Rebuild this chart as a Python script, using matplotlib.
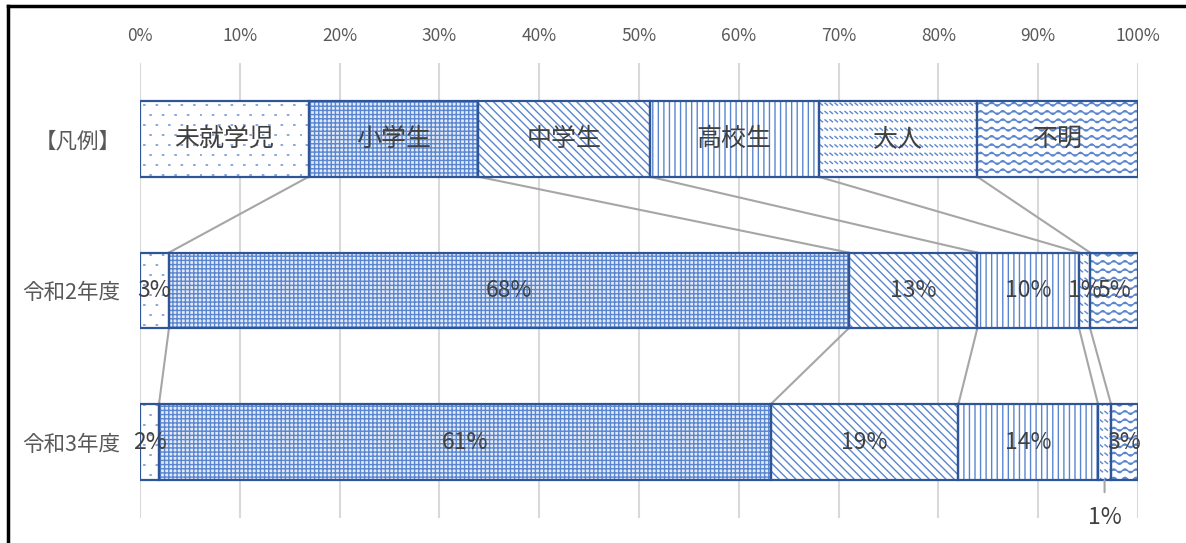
import warnings

import matplotlib
matplotlib.use("Agg")
import matplotlib.hatch as mhatch
import matplotlib.pyplot as plt
import numpy as np
from matplotlib.lines import Line2D
from matplotlib.path import Path

warnings.filterwarnings("ignore")

plt.rcParams["font.family"] = ["Noto Sans CJK JP", "DejaVu Sans"]
plt.rcParams["hatch.linewidth"] = 1.0

# data (percent of each group per year)
categories = ["【凡例】", "令和2年度", "令和3年度"]
groups = ["未就学児", "小学生", "中学生", "高校生", "大人", "不明"]
legend_widths = [16.9, 17.0, 17.2, 16.9, 15.9, 16.1]
r2_values = [2.9, 68.1, 12.9, 10.2, 1.1, 4.8]
r3_values = [1.9, 61.3, 18.8, 14.0, 1.3, 2.7]
tick_values = list(range(0, 101, 10))

hatches = [":", "++++", "\\\\\\\\", "|||", "==", "~~"]
face_colors = ["white", "#e4ebf7", "white", "white", "white", "white"]
HATCH_COLOR = "#5a86cf"
EDGE_COLOR = "#2f5597"
TEXT_COLOR = "#404040"
TICK_COLOR = "#595959"
GRID_COLOR = "#d9d9d9"
SERIES_LINE_COLOR = "#a6a6a6"


class WaveHatch(mhatch.HatchPatternBase):
    """'~' : rows of small waves"""

    def __init__(self, hatch, density):
        self.num_rows = int(hatch.count("~") * density)
        self.num_pts = 201
        self.num_vertices = self.num_rows * self.num_pts

    def set_vertices_and_codes(self, vertices, codes):
        x = np.linspace(0, 1, self.num_pts)
        k = 0
        for i in range(self.num_rows):
            y0 = (i + 0.5) / self.num_rows
            vertices[k:k + self.num_pts, 0] = x
            vertices[k:k + self.num_pts, 1] = y0 + 0.22 / self.num_rows * np.sin(2 * np.pi * 9 * x)
            codes[k] = Path.MOVETO
            codes[k + 1:k + self.num_pts] = Path.LINETO
            k += self.num_pts


class DashRowHatch(mhatch.HatchPatternBase):
    """'=' : rows of short slanted dashes"""

    def __init__(self, hatch, density):
        self.num_rows = int(hatch.count("=") * density)
        self.num_dash = 20
        self.num_vertices = self.num_rows * self.num_dash * 2

    def set_vertices_and_codes(self, vertices, codes):
        k = 0
        h = 0.12 / max(self.num_rows, 1)
        for i in range(self.num_rows):
            y0 = (i + 0.5) / self.num_rows
            for j in range(self.num_dash):
                x0 = j / self.num_dash
                vertices[k] = (x0, y0 + h)
                vertices[k + 1] = (x0 + 0.025, y0 - h)
                codes[k] = Path.MOVETO
                codes[k + 1] = Path.LINETO
                k += 2


class DotHatch(mhatch.HatchPatternBase):
    """':' : sparse small staggered dots"""

    def __init__(self, hatch, density):
        self.num_rows = 10 if ":" in hatch else 0
        self.num_cols = 8
        self.num_vertices = self.num_rows * self.num_cols * 2

    def set_vertices_and_codes(self, vertices, codes):
        k = 0
        for i in range(self.num_rows):
            y0 = (i + 0.5) / self.num_rows
            shift = 0.5 * (i % 2) / self.num_cols
            for j in range(self.num_cols):
                x0 = j / self.num_cols + shift
                vertices[k] = (x0, y0)
                vertices[k + 1] = (x0 + 0.012, y0)
                codes[k] = Path.MOVETO
                codes[k + 1] = Path.LINETO
                k += 2


mhatch._hatch_types.extend([WaveHatch, DashRowHatch, DotHatch])

rows = [legend_widths, r2_values, r3_values]
outside_label = (2, 4)  # row 3, 大人 -> label below bar

fig = plt.figure(figsize=(11.86, 5.43), dpi=100)
ax = fig.add_axes([140 / 1186, 1 - 518 / 543, 998 / 1186, 455 / 543])

bar_h = 0.5
cums = []
for i, vals in enumerate(rows):
    vals = np.asarray(vals, dtype=float)
    left = np.concatenate([[0], np.cumsum(vals)[:-1]])
    cums.append(np.cumsum(vals))
    for j, (v, l) in enumerate(zip(vals, left)):
        ax.barh(i, v, left=l, height=bar_h, color=face_colors[j], hatch=hatches[j],
                edgecolor=HATCH_COLOR, linewidth=0, zorder=2)
        ax.barh(i, v, left=l, height=bar_h, facecolor="none",
                edgecolor=EDGE_COLOR, linewidth=1.6, zorder=3)
        cx = l + v / 2
        if i == 0:
            ax.text(cx, i, groups[j], ha="center", va="center", fontsize=18,
                    color=TEXT_COLOR, zorder=4)
        elif (i, j) == outside_label:
            ax.annotate(f"{round(v)}%", xy=(cx, i + bar_h / 2), xytext=(0, -27),
                        textcoords="offset points", ha="center", va="center",
                        fontsize=16.5, color=TEXT_COLOR, annotation_clip=False,
                        arrowprops=dict(arrowstyle="-", color=SERIES_LINE_COLOR,
                                        lw=1.5, shrinkA=8, shrinkB=0))
        else:
            ax.text(cx, i, f"{round(v)}%", ha="center", va="center", fontsize=16.5,
                    color=TEXT_COLOR, zorder=4)

# series lines between the stacked bars
for i in range(len(rows) - 1):
    for j in range(len(groups) - 1):
        ax.plot([cums[i][j], cums[i + 1][j]], [i + bar_h / 2, i + 1 - bar_h / 2],
                color=SERIES_LINE_COLOR, lw=1.5, zorder=1)

ax.set_xlim(0, 100)
ax.set_ylim(2.5, -0.5)
ax.set_xticks(tick_values)
ax.set_xticklabels([f"{t}%" for t in tick_values])
ax.xaxis.tick_top()
ax.set_yticks(range(len(categories)))
ax.set_yticklabels(categories)
ax.tick_params(axis="x", length=0, pad=13, labelsize=12.5, labelcolor=TICK_COLOR)
ax.tick_params(axis="y", length=0, pad=14, labelsize=15.5, labelcolor=TICK_COLOR)
ax.grid(axis="x", color=GRID_COLOR, lw=1.5)
ax.set_axisbelow(True)
for s in ax.spines.values():
    s.set_visible(False)

# outer frame (left and top edges visible)
fig.add_artist(Line2D([8 / 1186, 8 / 1186], [0, 1 - 6 / 543], transform=fig.transFigure,
                      color="black", lw=2.5))
fig.add_artist(Line2D([8 / 1186, 1], [1 - 6 / 543, 1 - 6 / 543], transform=fig.transFigure,
                      color="black", lw=2.5))

fig.savefig("out.png", dpi=100)
